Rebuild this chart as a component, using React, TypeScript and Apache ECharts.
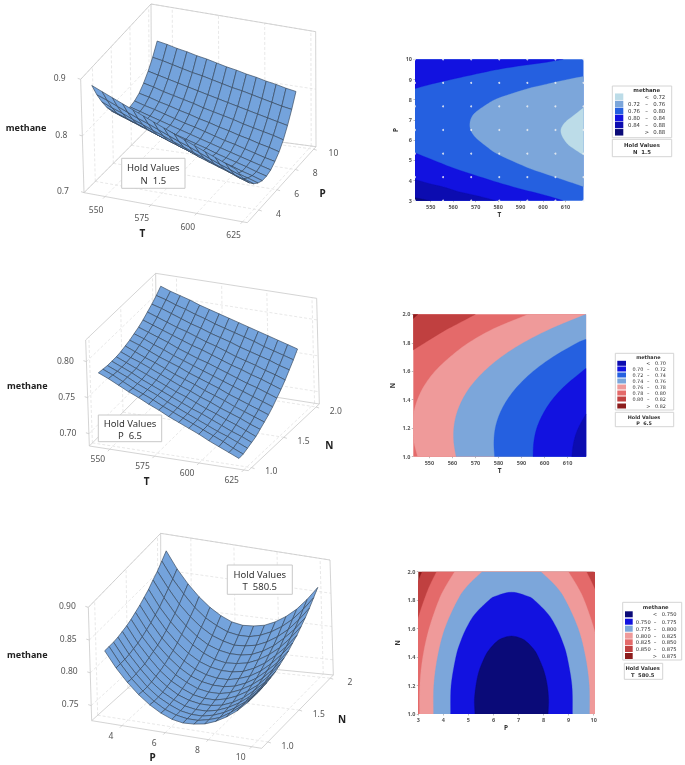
import React, { useEffect, useRef } from "react";
import * as echarts from "echarts";

const FONT = "Noto Sans";
const LEGEND_FONT = "DejaVu Sans";

// ---------- surface grids ----------
const T_GRID = [543, 548.36, 553.71, 559.07, 564.43, 569.79, 575.14, 580.5, 585.86, 591.21, 596.57, 601.93, 607.29, 612.64, 618];
const P_GRID = [3, 3.5, 4, 4.5, 5, 5.5, 6, 6.5, 7, 7.5, 8, 8.5, 9, 9.5, 10];
const N_GRID = [1, 1.071, 1.143, 1.214, 1.286, 1.357, 1.429, 1.5, 1.571, 1.643, 1.714, 1.786, 1.857, 1.929, 2];

// methane by P (rows) and T (columns), N held at 1.5
const METHANE_TP = [
  [.888, .881, .874, .867, .860, .853, .846, .839, .832, .825, .818, .811, .804, .797, .790],
  [.863, .857, .850, .843, .836, .830, .823, .816, .809, .803, .796, .789, .782, .776, .769],
  [.842, .835, .829, .822, .816, .809, .803, .796, .790, .783, .777, .770, .764, .757, .751],
  [.824, .817, .811, .805, .799, .792, .786, .780, .774, .767, .761, .755, .749, .742, .736],
  [.809, .803, .797, .791, .785, .779, .773, .767, .761, .755, .749, .743, .737, .731, .725],
  [.797, .792, .786, .780, .774, .769, .763, .757, .751, .746, .740, .734, .728, .723, .717],
  [.789, .784, .778, .773, .767, .762, .756, .751, .745, .740, .734, .729, .723, .718, .712],
  [.785, .779, .774, .769, .764, .758, .753, .748, .743, .737, .732, .727, .722, .716, .711],
  [.783, .778, .773, .768, .763, .758, .753, .748, .743, .738, .733, .728, .723, .718, .713],
  [.785, .780, .776, .771, .766, .761, .757, .752, .747, .742, .738, .733, .728, .723, .719],
  [.790, .786, .781, .777, .772, .768, .763, .759, .754, .750, .745, .741, .736, .732, .727],
  [.799, .795, .790, .786, .782, .778, .773, .769, .765, .761, .756, .752, .748, .744, .739],
  [.811, .807, .803, .799, .795, .791, .787, .783, .779, .775, .771, .767, .763, .759, .755],
  [.826, .823, .819, .815, .811, .808, .804, .800, .796, .793, .789, .785, .781, .777, .774],
  [.845, .842, .838, .835, .831, .828, .824, .820, .817, .813, .810, .806, .803, .799, .796],
];

// methane by N (rows) and T (columns), P held at 6.5
const METHANE_TN = [
  [.782, .776, .769, .762, .756, .749, .743, .736, .730, .724, .718, .711, .705, .699, .693],
  [.781, .775, .768, .761, .755, .749, .742, .736, .730, .724, .718, .712, .706, .699, .693],
  [.780, .774, .768, .761, .755, .749, .742, .736, .730, .724, .718, .712, .707, .701, .695],
  [.780, .774, .768, .761, .755, .749, .743, .737, .731, .726, .720, .714, .708, .703, .697],
  [.780, .774, .768, .762, .756, .750, .744, .739, .733, .727, .722, .716, .711, .705, .699],
  [.781, .775, .770, .764, .758, .752, .746, .741, .735, .730, .724, .719, .714, .708, .703],
  [.783, .777, .771, .766, .760, .754, .749, .744, .738, .733, .728, .722, .717, .712, .707],
  [.785, .780, .774, .768, .763, .758, .752, .747, .742, .737, .731, .726, .721, .716, .711],
  [.788, .783, .777, .772, .766, .761, .756, .751, .746, .741, .736, .731, .726, .721, .716],
  [.791, .786, .781, .776, .770, .765, .760, .756, .751, .746, .741, .736, .732, .727, .722],
  [.795, .790, .785, .780, .775, .770, .766, .761, .756, .751, .747, .742, .738, .733, .728],
  [.800, .795, .790, .785, .781, .776, .771, .767, .762, .757, .753, .749, .744, .740, .735],
  [.805, .801, .796, .791, .786, .782, .777, .773, .769, .764, .760, .756, .752, .747, .743],
  [.811, .807, .802, .798, .793, .789, .784, .780, .776, .772, .768, .763, .759, .755, .751],
  [.818, .813, .809, .805, .800, .796, .792, .788, .784, .780, .776, .772, .768, .764, .760],
];

// methane by N (rows) and P (columns), T held at 580.5
const METHANE_PN = [
  [.827, .804, .785, .769, .756, .746, .739, .736, .737, .740, .747, .757, .770, .787, .807],
  [.827, .804, .784, .768, .755, .745, .739, .736, .736, .740, .746, .757, .770, .787, .807],
  [.827, .804, .785, .768, .755, .746, .739, .736, .736, .740, .747, .757, .770, .787, .807],
  [.828, .805, .786, .769, .756, .747, .740, .737, .737, .741, .748, .758, .771, .788, .808],
  [.830, .807, .787, .771, .758, .748, .742, .739, .739, .742, .749, .759, .773, .789, .809],
  [.832, .809, .790, .773, .760, .751, .744, .741, .741, .745, .752, .762, .775, .792, .812],
  [.835, .812, .793, .776, .763, .754, .747, .744, .744, .748, .755, .765, .778, .795, .815],
  [.839, .816, .796, .780, .767, .757, .751, .748, .748, .751, .758, .768, .782, .798, .818],
  [.843, .820, .800, .784, .771, .761, .755, .752, .752, .756, .762, .772, .786, .803, .823],
  [.848, .825, .805, .789, .776, .766, .760, .757, .757, .760, .767, .777, .791, .807, .827],
  [.853, .830, .811, .795, .782, .772, .765, .762, .763, .766, .773, .783, .796, .813, .833],
  [.860, .837, .817, .801, .788, .778, .772, .769, .769, .772, .779, .789, .803, .819, .839],
  [.866, .844, .824, .808, .795, .785, .779, .775, .776, .779, .786, .796, .809, .826, .846],
  [.874, .851, .832, .815, .802, .793, .786, .783, .783, .787, .794, .804, .817, .834, .854],
  [.882, .859, .840, .824, .811, .801, .794, .791, .792, .795, .802, .812, .825, .842, .862],
];

// ---------- contour boundaries, in data units ----------
const A_080_UP = [[543, 8.55], [552, 8.82], [560, 9.02], [570, 9.27], [580, 9.5], [590, 9.68], [600, 9.83], [609, 10]];
const A_080_LOW = [[543, 5.37], [552, 4.97], [560, 4.62], [570, 4.25], [580, 3.9], [590, 3.58], [600, 3.3], [609, 3]];
const A_084_LOW = [[543, 4.05], [550, 3.83], [556, 3.67], [562, 3.46], [568, 3.31], [574, 3.15], [579, 3]];
const A_088_LOW = [[543, 3.15], [546, 3.08], [550, 3]];
const A_076 = [[618, 9.15], [610, 8.98], [600, 8.73], [592.7, 8.53], [580, 8.07], [575, 7.77], [570, 7.38], [568, 7.08], [567.4, 6.75], [568, 6.45], [570, 6.13], [575, 5.67], [580, 5.3], [592.7, 4.66], [600, 4.37], [610, 4.0], [618, 3.7]];
const A_072 = [[618, 7.6], [614, 7.25], [610, 6.9], [608, 6.55], [608.5, 6.2], [611, 5.8], [614, 5.55], [618, 5.26]];

const B_082 = [[543, 1.97], [545, 2]];
const B_080 = [[543, 1.75], [548, 1.8], [556, 1.88], [563, 1.94], [570, 2]];
const B_078 = [[544.9, 1], [543.3, 1.1], [542.7, 1.2], [543.1, 1.3], [544.8, 1.4], [547.8, 1.5], [552.4, 1.6], [558.9, 1.7], [567, 1.8], [578, 1.9], [593, 2]];
const B_076 = [[561.6, 1], [560.6, 1.1], [560.6, 1.2], [561.8, 1.3], [564.3, 1.4], [568.2, 1.5], [573.8, 1.6], [581.2, 1.7], [590.8, 1.8], [603, 1.9], [618, 2]];
const B_074 = [[578.3, 1], [578, 1.1], [578.6, 1.2], [580.5, 1.3], [583.8, 1.4], [588.6, 1.5], [595.1, 1.6], [603.6, 1.7], [614.3, 1.8], [618, 1.824]];
const B_072 = [[595, 1], [595.3, 1.1], [596.6, 1.2], [599.3, 1.3], [603.3, 1.4], [609, 1.5], [616.4, 1.6], [618, 1.62]];
const B_070 = [[611.8, 1], [612.6, 1.1], [614.6, 1.2], [618, 1.3]];

const C_0875_L = [[2.1, 1], [2.2, 1.4], [2.56, 1.7], [2.72, 1.8], [2.92, 1.9], [3.15, 2]];
const C_0875_R = [[10.29, 2], [10.52, 1.9], [10.88, 1.7], [11.2, 1.4], [11.3, 1]];
const C_085_L = [[2.56, 1], [2.58, 1.2], [2.68, 1.4], [2.89, 1.6], [3.04, 1.7], [3.23, 1.8], [3.45, 1.9], [3.73, 2]];
const C_085_R = [[9.71, 2], [9.99, 1.9], [10.21, 1.8], [10.4, 1.7], [10.55, 1.6], [10.76, 1.4], [10.86, 1.2], [10.88, 1]];
const C_0825_L = [[3.05, 1], [3.06, 1.2], [3.18, 1.4], [3.43, 1.6], [3.82, 1.8], [4.1, 1.9], [4.45, 2]];
const C_0825_R = [[8.99, 2], [9.34, 1.9], [9.62, 1.8], [10.01, 1.6], [10.26, 1.4], [10.38, 1.2], [10.39, 1]];
const C_080_L = [[3.61, 1], [3.62, 1.2], [3.77, 1.4], [4.06, 1.6], [4.57, 1.8], [4.96, 1.9], [5.55, 2]];
const C_080_R = [[7.89, 2], [8.48, 1.9], [8.87, 1.8], [9.38, 1.6], [9.67, 1.4], [9.82, 1.2], [9.83, 1]];
const C_0775 = [[4.29, 1], [4.31, 1.2], [4.5, 1.4], [4.67, 1.5], [4.91, 1.6], [5.25, 1.7], [5.82, 1.8], [6.11, 1.83], [6.72, 1.856], [7.33, 1.83], [7.63, 1.8], [8.19, 1.7], [8.53, 1.6], [8.77, 1.5], [8.94, 1.4], [9.13, 1.2], [9.15, 1]];
const C_075 = [[5.26, 1], [5.24, 1.1], [5.3, 1.2], [5.42, 1.3], [5.65, 1.4], [5.82, 1.45], [6.07, 1.5], [6.31, 1.53], [6.72, 1.548], [7.13, 1.53], [7.37, 1.5], [7.63, 1.45], [7.79, 1.4], [8.02, 1.3], [8.15, 1.2], [8.2, 1.1], [8.18, 1]];

const DOT_T = [543, 555.5, 568, 580.5, 593, 605.5, 618];
const DOT_P = [3, 4.17, 5.33, 6.5, 7.67, 8.83, 10];

// ---------- ticks ----------
const T_TICKS_3D = [550, 575, 600, 625];
const P_TICKS_3D_A = [4, 6, 8, 10];
const Z_TICKS_A = [0.7, 0.8, 0.9];
const N_TICKS_3D = [1, 1.5, 2];
const Z_TICKS_B = [0.7, 0.75, 0.8];
const P_TICKS_3D_C = [4, 6, 8, 10];
const Z_TICKS_C = [0.75, 0.8, 0.85, 0.9];
const T_TICKS = [550, 560, 570, 580, 590, 600, 610];
const P_TICKS = [3, 4, 5, 6, 7, 8, 9, 10];
const N_TICKS = [1, 1.2, 1.4, 1.6, 1.8, 2];

// ---------- colours ----------
const LIGHT = "#bcdce8", MID = "#7ca6da", ROYAL = "#2560e0", BLUE = "#1212e0", DARK = "#0c0cb0", NAVY = "#0a0a78";
const PINK = "#ef9a9a", SALMON = "#e46a6a", RED = "#c04040", DRED = "#8c1c1c";
const SURFACE = "#74a3dc";

const LEGEND_A = [["", "<", "0.72", LIGHT], ["0.72", "–", "0.76", MID], ["0.76", "–", "0.80", ROYAL], ["0.80", "–", "0.84", BLUE], ["0.84", "–", "0.88", DARK], ["", ">", "0.88", NAVY]];
const LEGEND_B = [["", "<", "0.70", DARK], ["0.70", "–", "0.72", BLUE], ["0.72", "–", "0.74", ROYAL], ["0.74", "–", "0.76", MID], ["0.76", "–", "0.78", PINK], ["0.78", "–", "0.80", SALMON], ["0.80", "–", "0.82", RED], ["", ">", "0.82", DRED]];
const LEGEND_C = [["", "<", "0.750", NAVY], ["0.750", "–", "0.775", BLUE], ["0.775", "–", "0.800", MID], ["0.800", "–", "0.825", PINK], ["0.825", "–", "0.850", SALMON], ["0.850", "–", "0.875", RED], ["", ">", "0.875", DRED]];

// ---------- 3D frames ----------
function corners(c: number[][], oy: number) {
  return c.map(([x, y]) => [x / 3, y / 3 + oy]);
}
const BOX_A = {
  xr: [538.5, 627.6], yr: [2.75, 10.25], zr: [0.7, 0.9], sk: 0.035,
  c: corners([[252, 578], [742, 668], [948, 440], [455, 375], [242, 238], [735, 346], [947, 95], [453, 12]], 0),
};
const BOX_B = {
  xr: [538.5, 627.6], yr: [0.95, 2.05], zr: [0.683, 0.83], sk: 0.035,
  c: corners([[268, 558], [745, 632], [958, 432], [470, 355], [257, 240], [737, 312], [950, 115], [467, 40]], 260),
};
const BOX_C = {
  xr: [2.6, 10.46], yr: [0.9, 2.05], zr: [0.727, 0.9], sk: 0.012,
  c: corners([[275, 572], [785, 655], [1000, 435], [483, 385], [265, 232], [777, 345], [990, 90], [482, 10]], 530),
};

function project(b: any, x: number, y: number, z: number, useSkew = false) {
  let u = echarts.number.linearMap(x, b.xr, [0, 1]);
  const v = echarts.number.linearMap(y, b.yr, [0, 1]);
  const w = echarts.number.linearMap(z, b.zr, [0, 1]);
  if (useSkew) u = u * (1 + b.sk * (1 - v));
  const [a, d, e, h, at, dt, et, ht] = b.c;
  return [0, 1].map((k) => {
    const fb = a[k] + (d[k] - a[k]) * u;
    const bb = h[k] + (e[k] - h[k]) * u;
    const ft = at[k] + (dt[k] - at[k]) * u;
    const bt = ht[k] + (et[k] - ht[k]) * u;
    const lo = fb + (bb - fb) * v;
    const hi = ft + (bt - ft) * v;
    return lo + (hi - lo) * w;
  });
}

function surfaceSeries(xs: number[], ys: number[], rows: number[][], box: any) {
  const data: number[][] = [];
  for (let j = ys.length - 2; j >= 0; j--) {
    for (let i = 0; i < xs.length - 1; i++) {
      data.push([xs[i], xs[i + 1], ys[j], ys[j + 1], rows[j][i], rows[j][i + 1], rows[j + 1][i + 1], rows[j + 1][i]]);
    }
  }
  return {
    type: "custom",
    coordinateSystem: "none",
    silent: true,
    z: 3,
    data,
    renderItem: (_: any, api: any) => {
      const x0 = api.value(0), x1 = api.value(1), y0 = api.value(2), y1 = api.value(3);
      return {
        type: "polygon",
        shape: {
          points: [
            project(box, x0, y0, api.value(4), true),
            project(box, x1, y0, api.value(5), true),
            project(box, x1, y1, api.value(6), true),
            project(box, x0, y1, api.value(7), true),
          ],
        },
        style: { fill: SURFACE, stroke: "#34465a", lineWidth: 0.65 },
      };
    },
  };
}

function frameSeries(b: any, xT: number[], yT: number[], zT: number[], fmtX: any, fmtY: any, fmtZ: any, off: any) {
  const [x0, x1] = b.xr, [y0, y1] = b.yr, [z0, z1] = b.zr;
  const kids: any[] = [];
  const line = (p: number[], q: number[], dashed: boolean) =>
    kids.push({
      type: "line",
      shape: { x1: p[0], y1: p[1], x2: q[0], y2: q[1] },
      style: { stroke: dashed ? "#dedede" : "#c9c9c9", lineWidth: dashed ? 0.7 : 0.8, lineDash: dashed ? [3, 2] : null },
    });
  const P = (x: number, y: number, z: number) => project(b, x, y, z);
  const text = (s: string, p: number[], o: number[]) =>
    kids.push({
      type: "text",
      style: { text: s, x: p[0] + o[0], y: p[1] + o[1], fill: "#555", fontSize: 8.5, fontFamily: FONT, align: "center", verticalAlign: "middle" },
    });
  xT.forEach((v) => {
    line(P(v, y0, z0), P(v, y1, z0), true);
    line(P(v, y1, z0), P(v, y1, z1), true);
    const q = P(v, y0, z0);
    line(q, [q[0] - 2, q[1] + 2], false);
    text(fmtX(v), q, off.x);
  });
  yT.forEach((v) => {
    line(P(x0, v, z0), P(x1, v, z0), true);
    line(P(x0, v, z0), P(x0, v, z1), true);
    const q = P(x1, v, z0);
    line(q, [q[0] + 3, q[1] + 1], false);
    text(fmtY(v), q, off.y);
  });
  zT.forEach((v) => {
    line(P(x0, y0, v), P(x0, y1, v), true);
    line(P(x0, y1, v), P(x1, y1, v), true);
    const q = P(x0, y0, v);
    line(q, [q[0] - 3, q[1] - 1], false);
    text(fmtZ(v), q, off.z);
  });
  const edges = [
    [[x0, y0, z0], [x1, y0, z0]], [[x1, y0, z0], [x1, y1, z0]], [[x1, y1, z0], [x0, y1, z0]], [[x0, y1, z0], [x0, y0, z0]],
    [[x0, y0, z0], [x0, y0, z1]], [[x0, y1, z0], [x0, y1, z1]], [[x1, y1, z0], [x1, y1, z1]],
    [[x0, y0, z1], [x0, y1, z1]], [[x0, y1, z1], [x1, y1, z1]],
  ];
  edges.forEach(([p, q]) => line(P(p[0], p[1], p[2]), P(q[0], q[1], q[2]), false));
  return {
    type: "custom",
    coordinateSystem: "none",
    silent: true,
    z: 2,
    data: [[0]],
    renderItem: () => ({ type: "group", children: kids }),
  };
}

function smooth(pts: number[][]) {
  if (pts.length < 3) return pts;
  const out: number[][] = [];
  for (let i = 0; i < pts.length - 1; i++) {
    const p0 = pts[Math.max(i - 1, 0)], p1 = pts[i], p2 = pts[i + 1], p3 = pts[Math.min(i + 2, pts.length - 1)];
    for (let s = 0; s < 6; s++) {
      const q = s / 6, q2 = q * q, q3 = q2 * q;
      out.push([0, 1].map((k) =>
        0.5 * (2 * p1[k] + (p2[k] - p0[k]) * q + (2 * p0[k] - 5 * p1[k] + 4 * p2[k] - p3[k]) * q2 + (3 * p1[k] - p0[k] - 3 * p2[k] + p3[k]) * q3)));
    }
  }
  out.push(pts[pts.length - 1]);
  return out;
}

function contourSeries(index: number, regions: { color: string; parts: number[][][] }[]) {
  return {
    type: "custom",
    coordinateSystem: "cartesian2d",
    xAxisIndex: index,
    yAxisIndex: index,
    clip: true,
    silent: true,
    z: 2,
    data: regions.map((_, i) => [i]),
    encode: { x: -1, y: -1 },
    renderItem: (_: any, api: any) => {
      const r = regions[api.value(0)];
      const points: number[][] = [];
      r.parts.forEach((part) => {
        smooth(part.map((p) => api.coord(p))).forEach((q) => points.push(q));
      });
      return { type: "polygon", shape: { points }, style: { fill: r.color, stroke: r.color, lineWidth: 0.3 } };
    },
  };
}

function gridOf(l: number, r: number, t: number, b: number, bg: string) {
  return { show: true, left: l, top: t, width: r - l, height: b - t, backgroundColor: bg, borderWidth: 0, containLabel: false };
}
function axis(kind: string, min: number, max: number, ticks: number[], name: string, gap: number, index: number, fmt?: any) {
  return {
    type: "value",
    gridIndex: index,
    min,
    max,
    name,
    nameLocation: "middle",
    nameGap: gap,
    nameRotate: kind === "y" ? 90 : 0,
    nameTextStyle: { fontSize: 6.5, fontFamily: FONT, color: "#333", fontWeight: "bold" },
    axisLine: { show: false },
    splitLine: { show: false },
    axisTick: { show: true, length: 1.5, customValues: ticks, lineStyle: { color: "#777", width: 0.5 } },
    axisLabel: { customValues: ticks, fontSize: 5.5, fontFamily: FONT, fontWeight: "bold", color: "#555", margin: 3, formatter: fmt },
  };
}

function t(text: string, x: number, y: number, o: any = {}) {
  return {
    type: "text",
    x,
    y,
    z: 100,
    silent: true,
    style: { text, fontFamily: FONT, fontSize: 6, fill: "#333", align: "center", verticalAlign: "middle", ...o },
  };
}
function boxRect(x0: number, y0: number, x1: number, y1: number, stroke = "#d4d4d4") {
  return { type: "rect", z: 90, silent: true, shape: { x: x0, y: y0, width: x1 - x0, height: y1 - y0 }, style: { fill: "#fff", stroke, lineWidth: 1 } };
}
function hold3D(x0: number, y0: number, x1: number, y1: number, a: string, b: string) {
  const cx = (x0 + x1) / 2, h = y1 - y0;
  return [
    boxRect(x0, y0, x1, y1, "#c8c8c8"),
    t(a, cx, y0 + h * 0.32, { fontSize: 9.5, fill: "#333" }),
    t(b, cx, y0 + h * 0.75, { fontSize: 9.5, fill: "#333" }),
  ];
}
function legend(cfg: any, rows: string[][], title: string, holdA: string, holdB: string) {
  const L = { fontFamily: LEGEND_FONT, fontSize: cfg.fs };
  const out: any[] = [
    boxRect(cfg.x0, cfg.y0, cfg.x1, cfg.y1),
    boxRect(cfg.hx0, cfg.hy0, cfg.hx1, cfg.hy1),
    t(title, cfg.tx, cfg.ty, { ...L, fontWeight: "bold" }),
    t(holdA, cfg.hcx, cfg.hy0 + (cfg.hy1 - cfg.hy0) * 0.3, { ...L, fontWeight: "bold" }),
    t(holdB, cfg.hcx, cfg.hy0 + (cfg.hy1 - cfg.hy0) * 0.72, { ...L, fontWeight: "bold" }),
  ];
  rows.forEach((r, i) => {
    const y = cfg.rows[i];
    out.push({ type: "rect", z: 95, silent: true, shape: { x: cfg.sx0, y: y - cfg.sh / 2, width: cfg.sx1 - cfg.sx0, height: cfg.sh }, style: { fill: r[3] } });
    if (r[0]) out.push(t(r[0], cfg.lowR, y, { ...L, align: "right" }));
    out.push(t(r[1], cfg.dash, y, L));
    out.push(t(r[2], cfg.highL, y, { ...L, align: "left" }));
  });
  return out;
}

const f1 = (v: number) => v.toFixed(1);
const f2 = (v: number) => v.toFixed(2);
const f0 = (v: number) => String(v);

export default function App() {
  const ref = useRef<HTMLDivElement>(null);
  useEffect(() => {
    document.body.style.margin = "0";
    const chart = echarts.init(ref.current!, undefined, { renderer: "svg" });
    const dots: number[][] = [];
    DOT_T.forEach((x) => DOT_P.forEach((y) => dots.push([x, y])));
    chart.setOption({
      animation: false,
      backgroundColor: "#fff",
      grid: [gridOf(415, 583.5, 59.3, 200.7, ROYAL), gridOf(413.3, 586, 314.3, 456.7, SALMON), gridOf(418.3, 593.7, 571.7, 714, DRED)],
      xAxis: [
        axis("x", 543, 618, T_TICKS, "T", 9, 0, f0),
        axis("x", 543, 618, T_TICKS, "T", 9, 1, f0),
        axis("x", 3, 10, P_TICKS, "P", 9, 2, f0),
      ],
      yAxis: [
        axis("y", 3, 10, P_TICKS, "P", 16, 0, f0),
        axis("y", 1, 2, N_TICKS, "N", 17, 1, f1),
        axis("y", 1, 2, N_TICKS, "N", 17, 2, f1),
      ],
      series: [
        frameSeries(BOX_A, T_TICKS_3D, P_TICKS_3D_A, Z_TICKS_A, f0, f0, f1, { x: [-9, 12.7], y: [19.7, 3.3], z: [-21, -2] }),
        surfaceSeries(T_GRID, P_GRID, METHANE_TP, BOX_A),
        frameSeries(BOX_B, T_TICKS_3D, N_TICKS_3D, Z_TICKS_B, f0, f1, f2, { x: [-12, 9.5], y: [19.7, 3.3], z: [-21, -1] }),
        surfaceSeries(T_GRID, N_GRID, METHANE_TN, BOX_B),
        frameSeries(BOX_C, P_TICKS_3D_C, N_TICKS_3D, Z_TICKS_C, f0, (v: number) => (v === 2 ? "2" : f1(v)), f2, { x: [-11, 9.5], y: [19.7, 3.3], z: [-21, -2] }),
        surfaceSeries(P_GRID, N_GRID, METHANE_PN, BOX_C),
        contourSeries(0, [
          { color: BLUE, parts: [A_080_UP, [[609, 10], [543, 10]]] },
          { color: BLUE, parts: [A_080_LOW, [[543, 3]]] },
          { color: DARK, parts: [A_084_LOW, [[543, 3]]] },
          { color: NAVY, parts: [A_088_LOW, [[543, 3]]] },
          { color: MID, parts: [A_076] },
          { color: LIGHT, parts: [A_072] },
        ]),
        contourSeries(1, [
          { color: PINK, parts: [B_078, [[618, 2], [618, 1]]] },
          { color: MID, parts: [B_076, [[618, 1]]] },
          { color: ROYAL, parts: [B_074, [[618, 1]]] },
          { color: BLUE, parts: [B_072, [[618, 1]]] },
          { color: DARK, parts: [B_070, [[618, 1]]] },
          { color: RED, parts: [B_080, [[543, 2]]] },
          { color: DRED, parts: [B_082, [[543, 2]]] },
        ]),
        contourSeries(2, [
          { color: RED, parts: [C_0875_L, C_0875_R] },
          { color: SALMON, parts: [C_085_L, C_085_R] },
          { color: PINK, parts: [C_0825_L, C_0825_R] },
          { color: MID, parts: [C_080_L, C_080_R] },
          { color: BLUE, parts: [C_0775] },
          { color: NAVY, parts: [C_075] },
        ]),
        {
          type: "scatter",
          xAxisIndex: 0,
          yAxisIndex: 0,
          z: 5,
          silent: true,
          clip: true,
          symbolSize: 2,
          itemStyle: { color: "#f4f4f4" },
          data: dots,
        },
      ],
      graphic: [
        t("methane", 26, 127.7, { fontWeight: "bold", fontSize: 9, fill: "#222" }),
        t("T", 142.3, 232.7, { fontWeight: "bold", fontSize: 10, fill: "#222" }),
        t("P", 322.7, 192.7, { fontWeight: "bold", fontSize: 10, fill: "#222" }),
        t("methane", 27.3, 385, { fontWeight: "bold", fontSize: 9, fill: "#222" }),
        t("T", 146.7, 481, { fontWeight: "bold", fontSize: 10, fill: "#222" }),
        t("N", 329.3, 445, { fontWeight: "bold", fontSize: 10, fill: "#222" }),
        t("methane", 27.3, 654, { fontWeight: "bold", fontSize: 9, fill: "#222" }),
        t("P", 152.7, 756.7, { fontWeight: "bold", fontSize: 10, fill: "#222" }),
        t("N", 342, 719, { fontWeight: "bold", fontSize: 10, fill: "#222" }),
        ...hold3D(121.7, 158.3, 185, 188.3, "Hold Values", "N  1.5"),
        ...hold3D(98.3, 415, 161.7, 441.7, "Hold Values", "P  6.5"),
        ...hold3D(227.3, 565, 292.3, 594.3, "Hold Values", "T  580.5"),
        ...legend({ fs: 5.4, x0: 612.3, y0: 86, x1: 671.7, y1: 137.7, hx0: 612.3, hy0: 139.3, hx1: 671.7, hy1: 156.7, hcx: 642, tx: 646.7, ty: 90, sx0: 615, sx1: 623.3, sh: 6.5, lowR: 640, dash: 646.7, highL: 653.3, rows: [96.7, 104, 111, 118, 125, 132.3] }, LEGEND_A, "methane", "Hold Values", "N  1.5"),
        ...legend({ fs: 4.9, x0: 615.3, y0: 353.3, x1: 673.7, y1: 410, hx0: 615.3, hy0: 412.3, hx1: 673.7, hy1: 426.7, hcx: 644, tx: 648.3, ty: 356.7, sx0: 617.3, sx1: 626, sh: 5, lowR: 643.3, dash: 648.3, highL: 655, rows: [363.3, 369, 375, 381, 387, 393, 399, 406] }, LEGEND_B, "methane", "Hold Values", "P  6.5"),
        ...legend({ fs: 5.2, x0: 622.7, y0: 602.3, x1: 681.7, y1: 660, hx0: 624.3, hy0: 663.3, hx1: 662.7, hy1: 679.3, hcx: 642.7, tx: 655.7, ty: 606.7, sx0: 625, sx1: 632.7, sh: 6, lowR: 650.7, dash: 655, highL: 661.7, rows: [614.3, 621.7, 628.7, 635.7, 642.3, 649, 656] }, LEGEND_C, "methane", "Hold Values", "T  580.5"),
      ],
    });
    return () => chart.dispose();
  }, []);
  return <div ref={ref} style={{ position: "absolute", left: 0, top: 0, width: 685, height: 765, filter: "blur(0.35px)" }} />;
}
